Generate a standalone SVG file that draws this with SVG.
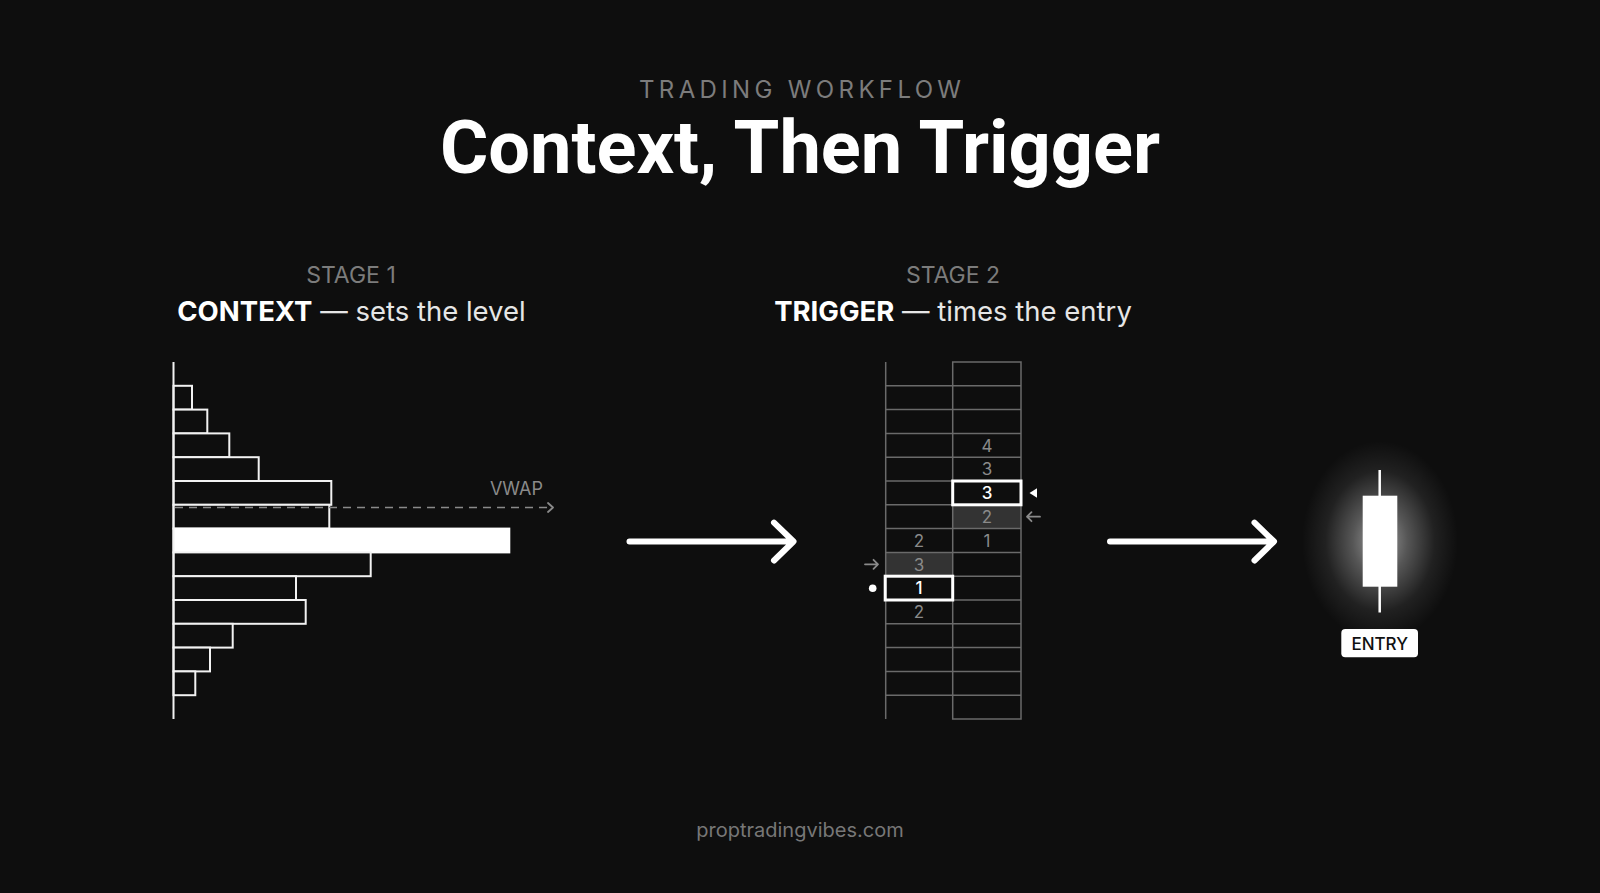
<svg xmlns="http://www.w3.org/2000/svg" width="1600" height="893" viewBox="0 0 1600 893">
<defs>
<style>
.sans{font-family:Inter,"Noto Sans","Liberation Sans",sans-serif}
.kicker{font-size:24px;fill:#7c7c7c}
.title{font-family:Roboto,Inter,"Liberation Sans",sans-serif;font-size:74px;font-weight:700;fill:#ffffff}
.stage{font-size:23px;fill:#7c7c7c}
.head{font-size:27.5px;fill:#e6e6e6}
.head .b{font-weight:700;fill:#ffffff}
.bar{fill:#0e0e0e;stroke:#f2f2f2;stroke-width:2}
.grid{stroke:#6a6a6a;stroke-width:1.5;fill:none}
.num{font-size:17px;fill:#8a8a8a;text-anchor:middle}
.numw{font-size:17px;fill:#ffffff;text-anchor:middle;font-weight:500}
.hot{fill:none;stroke:#ffffff;stroke-width:3}
.big{fill:none;stroke:#ffffff;stroke-width:6;stroke-linecap:round;stroke-linejoin:round}
.small{fill:none;stroke:#8a8a8a;stroke-width:1.8;stroke-linecap:round;stroke-linejoin:round}
</style>
<radialGradient id="halo" cx="0.5" cy="0.5" r="0.5">
<stop offset="0" stop-color="#ffffff" stop-opacity="0.6"/>
<stop offset="0.35" stop-color="#ffffff" stop-opacity="0.3"/>
<stop offset="0.7" stop-color="#ffffff" stop-opacity="0.08"/>
<stop offset="1" stop-color="#ffffff" stop-opacity="0"/>
</radialGradient>
</defs>
<rect width="1600" height="893" fill="#0e0e0e"/>

<g id="header" class="sans">
<text x="800" y="98.3" class="kicker" text-anchor="middle" textLength="322" lengthAdjust="spacing">TRADING WORKFLOW</text>
<text x="800" y="173.3" class="title" text-anchor="middle" textLength="720" lengthAdjust="spacing">Context, Then Trigger</text>
</g>

<g id="stage1-label" class="sans">
<text x="351" y="283.3" class="stage" text-anchor="middle">STAGE 1</text>
<text x="351.5" y="321" class="head" text-anchor="middle"><tspan class="b">CONTEXT</tspan> — sets the level</text>
</g>

<g id="stage2-label" class="sans">
<text x="953" y="283.3" class="stage" text-anchor="middle">STAGE 2</text>
<text x="953" y="321" class="head" text-anchor="middle"><tspan class="b">TRIGGER</tspan> — times the entry</text>
</g>

<g id="volume-profile">
<rect class="bar" x="173.5" y="385.8" width="18.5" height="23.8"/>
<rect class="bar" x="173.5" y="409.6" width="33.8" height="23.8"/>
<rect class="bar" x="173.5" y="433.4" width="55.8" height="23.8"/>
<rect class="bar" x="173.5" y="457.2" width="85.2" height="23.8"/>
<rect class="bar" x="173.5" y="481" width="157.8" height="23.8"/>
<rect class="bar" x="173.5" y="504.8" width="155.8" height="23.8"/>
<rect x="173.5" y="528.6" width="335.8" height="23.8" fill="#ffffff" stroke="#ffffff" stroke-width="2"/>
<rect class="bar" x="173.5" y="552.4" width="197.2" height="23.8"/>
<rect class="bar" x="173.5" y="576.2" width="122.5" height="23.8"/>
<rect class="bar" x="173.5" y="600" width="132.2" height="23.8"/>
<rect class="bar" x="173.5" y="623.8" width="59.2" height="23.8"/>
<rect class="bar" x="173.5" y="647.6" width="36.5" height="23.8"/>
<rect class="bar" x="173.5" y="671.4" width="21.8" height="23.8"/>
<line x1="173.5" y1="362" x2="173.5" y2="719" stroke="#f2f2f2" stroke-width="2"/>
</g>

<g id="vwap">
<line x1="175" y1="507.5" x2="552" y2="507.5" stroke="#8a8a8a" stroke-width="1.5" stroke-dasharray="8 6"/>
<polyline class="small" points="548,503 553,507.5 548,512"/>
<text x="543" y="495" class="sans" font-size="18" fill="#8a8a8a" text-anchor="end">VWAP</text>
</g>

<g id="footprint">
<rect x="952.7" y="504.8" width="68.3" height="23.8" fill="#333333"/>
<rect x="885.7" y="552.4" width="67" height="23.8" fill="#333333"/>
<line class="grid" x1="885.7" y1="362" x2="885.7" y2="719"/>
<rect class="grid" x="952.7" y="362" width="68.3" height="357"/>
<path class="grid" d="M885.7 385.8H1021M885.7 409.6H1021M885.7 433.4H1021M885.7 457.2H1021M885.7 481H1021M885.7 504.8H1021M885.7 528.6H1021M885.7 552.4H1021M885.7 576.2H1021M885.7 600H1021M885.7 623.8H1021M885.7 647.6H1021M885.7 671.4H1021M885.7 695.2H1021"/>
<rect class="hot" x="952.7" y="481" width="68.3" height="23.8"/>
<rect class="hot" x="885.2" y="576.2" width="67.5" height="23.8"/>
<g class="sans">
<text class="num" x="987" y="451.5">4</text>
<text class="num" x="987" y="475.3">3</text>
<text class="numw" x="987" y="499.1">3</text>
<text class="num" x="987" y="522.9">2</text>
<text class="num" x="987" y="546.7">1</text>
<text class="num" x="919" y="546.7">2</text>
<text class="num" x="919" y="570.5">3</text>
<text class="numw" x="919" y="594.3">1</text>
<text class="num" x="919" y="618.1">2</text>
</g>
<polygon points="1029.5,493 1037,488.3 1037,497.7" fill="#ffffff"/>
<path class="small" d="M1027 516.7H1040M1031.5 512.2L1027 516.7L1031.5 521.2"/>
<path class="small" d="M865 564.3H878M873.5 559.8L878 564.3L873.5 568.8"/>
<circle cx="872.7" cy="588.3" r="3.8" fill="#ffffff"/>
</g>

<g id="connectors">
<path class="big" d="M629.5 541.5H793M774 522.7L793.5 541.5L774 560.5"/>
<path class="big" d="M1110 541.5H1273.5M1254.5 522.7L1274 541.5L1254.5 560.5"/>
</g>

<g id="entry-candle">
<ellipse cx="1380" cy="541" rx="78" ry="100" fill="url(#halo)"/>
<line x1="1379.7" y1="470" x2="1379.7" y2="612.5" stroke="#ffffff" stroke-width="2.5"/>
<rect x="1362.7" y="495.7" width="34.6" height="91" fill="#ffffff"/>
<rect x="1341.3" y="629" width="76.7" height="28.3" rx="4" fill="#ffffff"/>
<text x="1379.7" y="650" class="sans" font-size="17" font-weight="500" fill="#111111" text-anchor="middle">ENTRY</text>
</g>

<g id="footer">
<text x="800" y="836.5" class="sans" font-size="20" fill="#777777" text-anchor="middle">proptradingvibes.com</text>
</g>
</svg>
